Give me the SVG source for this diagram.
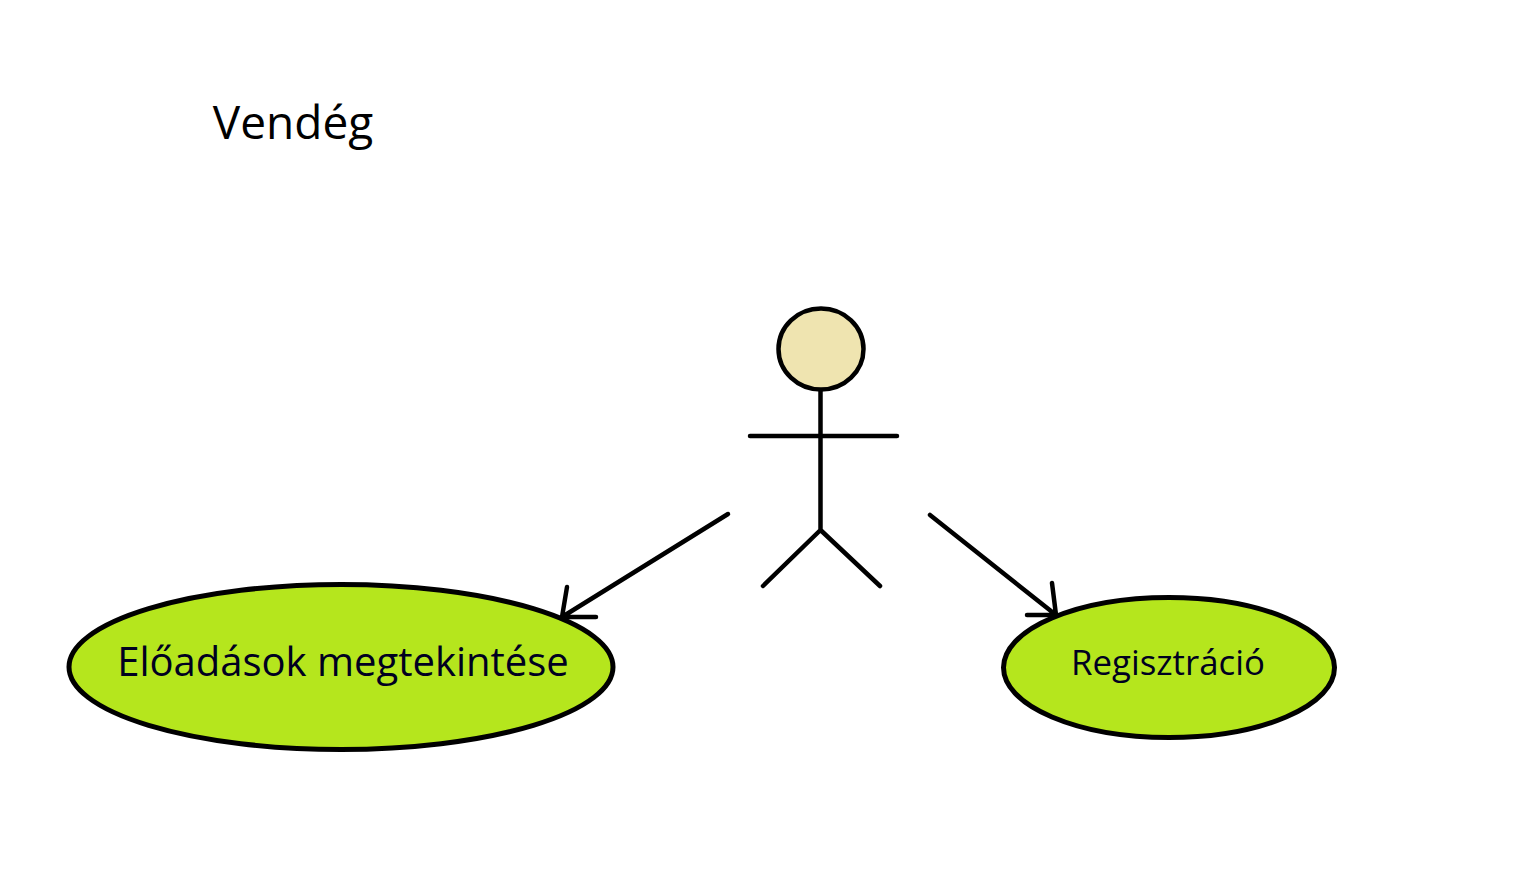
<svg xmlns="http://www.w3.org/2000/svg" width="1515" height="894" viewBox="0 0 1515 894">
<style>
.l{fill:none;stroke:#000;stroke-width:4.500;stroke-linecap:round;stroke-linejoin:round}
.u{fill:#b5e61d;stroke:#000;stroke-width:5}
text{font-family:"Open Sans","Noto Sans","Liberation Sans",sans-serif;text-anchor:middle}
</style>
<rect width="1515" height="894" fill="#fff"/>
<text id="title" x="293" y="139" font-size="46" fill="#000">Vendég</text>
<g id="actor">
<ellipse cx="821" cy="349" rx="42.500" ry="40.500" fill="#efe4b0" stroke="#000" stroke-width="4.500"/>
<path class="l" d="M820.500 391V530M750 436H897M820.500 530L763 586M820.500 530L880 586"/>
</g>
<g id="uc1">
<ellipse class="u" cx="341" cy="667" rx="272" ry="82.500"/>
<text x="343" y="676" font-size="40" fill="#000020">Előadások megtekintése</text>
</g>
<g id="uc2">
<ellipse class="u" cx="1169" cy="667.500" rx="165.500" ry="70"/>
<text x="1168" y="675" font-size="34.800" fill="#000020">Regisztráció</text>
</g>
<g id="connectors">
<path class="l" d="M728 514L562 617M567 587L562 617H596"/>
<path class="l" d="M930 515L1056 615M1052 583L1056 615H1027"/>
</g>
</svg>
